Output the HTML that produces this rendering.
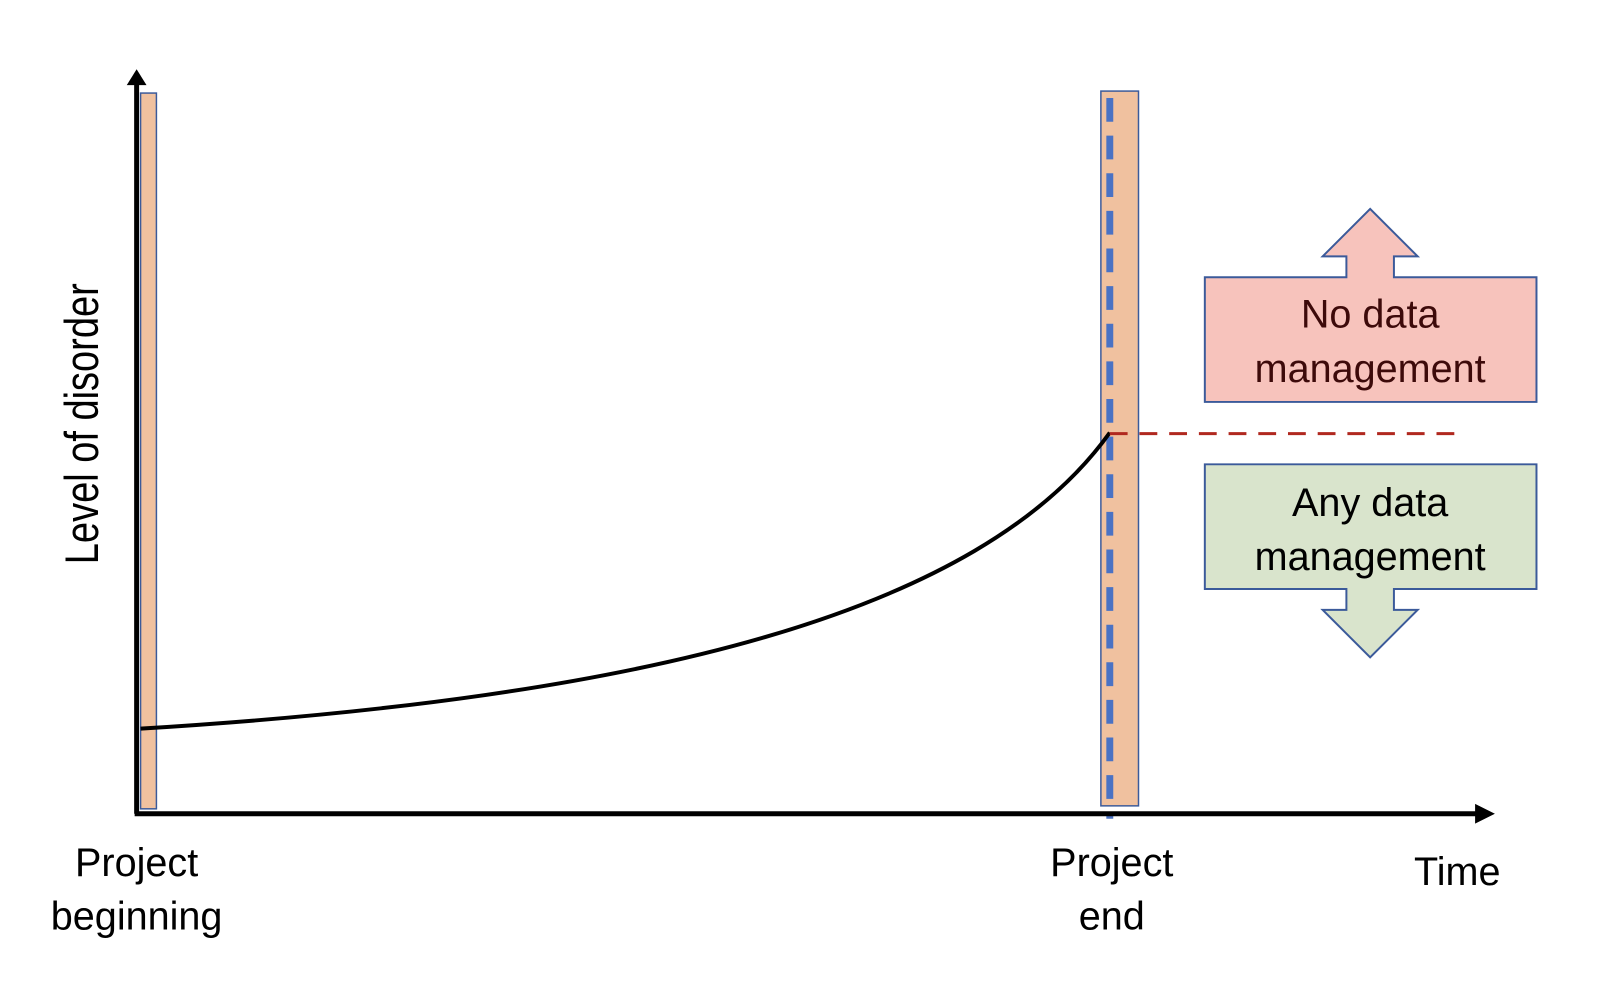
<!DOCTYPE html>
<html><head><meta charset="utf-8"><style>
html,body{margin:0;padding:0;background:#fff;}
</style></head><body>
<svg width="1614" height="984" viewBox="0 0 1614 984" xmlns="http://www.w3.org/2000/svg" font-family="Liberation Sans, sans-serif">
<g transform="scale(0.99)">
<!-- bars -->
<rect x="142" y="94" width="16" height="723" fill="#f0c19f" stroke="#3b5a9a" stroke-width="1.5"/>
<rect x="1112" y="92" width="38" height="722" fill="#f0c19f" stroke="#3b5a9a" stroke-width="1.5"/>
<line x1="1121" y1="99" x2="1121" y2="827" stroke="#4a72c4" stroke-width="7" stroke-dasharray="24 14"/>
<!-- axes -->
<line x1="138" y1="84" x2="138" y2="822" stroke="#000" stroke-width="5"/>
<polygon points="128,86 138,70 148,86" fill="#000"/>
<line x1="136" y1="822" x2="1492" y2="822" stroke="#000" stroke-width="5"/>
<polygon points="1490,812 1510,822 1490,832" fill="#000"/>
<!-- curve -->
<path d="M142,736 C650,705 990,620 1121,437" fill="none" stroke="#000" stroke-width="4"/>
<line x1="1121" y1="438" x2="1475" y2="438" stroke="#b0281f" stroke-width="3" stroke-dasharray="18 12"/>
<!-- top arrow box -->
<polygon points="1217,280 1360,280 1360,259 1336,259 1384,211 1432,259 1408,259 1408,280 1552,280 1552,406 1217,406" fill="#f7c3bc" stroke="#3b5a9a" stroke-width="2"/>
<text x="1384" y="331" font-size="40" text-anchor="middle" fill="#3d0a0a">No data</text>
<text x="1384" y="386" font-size="40" text-anchor="middle" fill="#3d0a0a">management</text>
<!-- bottom arrow box -->
<polygon points="1217,469 1552,469 1552,595 1408,595 1408,616 1432,616 1384,664 1336,616 1360,616 1360,595 1217,595" fill="#d9e4cc" stroke="#3b5a9a" stroke-width="2"/>
<text x="1384" y="521" font-size="40" text-anchor="middle" fill="#000">Any data</text>
<text x="1384" y="576" font-size="40" text-anchor="middle" fill="#000">management</text>
<!-- labels -->
<text x="138" y="885" font-size="40" text-anchor="middle">Project</text>
<text x="138" y="939" font-size="40" text-anchor="middle">beginning</text>
<text x="1123" y="885" font-size="40" text-anchor="middle">Project</text>
<text x="1123" y="939" font-size="40" text-anchor="middle">end</text>
<text x="1472" y="894" font-size="40" text-anchor="middle">Time</text>
<text transform="translate(99,428) rotate(-90) scale(0.8,1)" font-size="48" text-anchor="middle">Level of disorder</text>
</g>
</svg>
</body></html>
